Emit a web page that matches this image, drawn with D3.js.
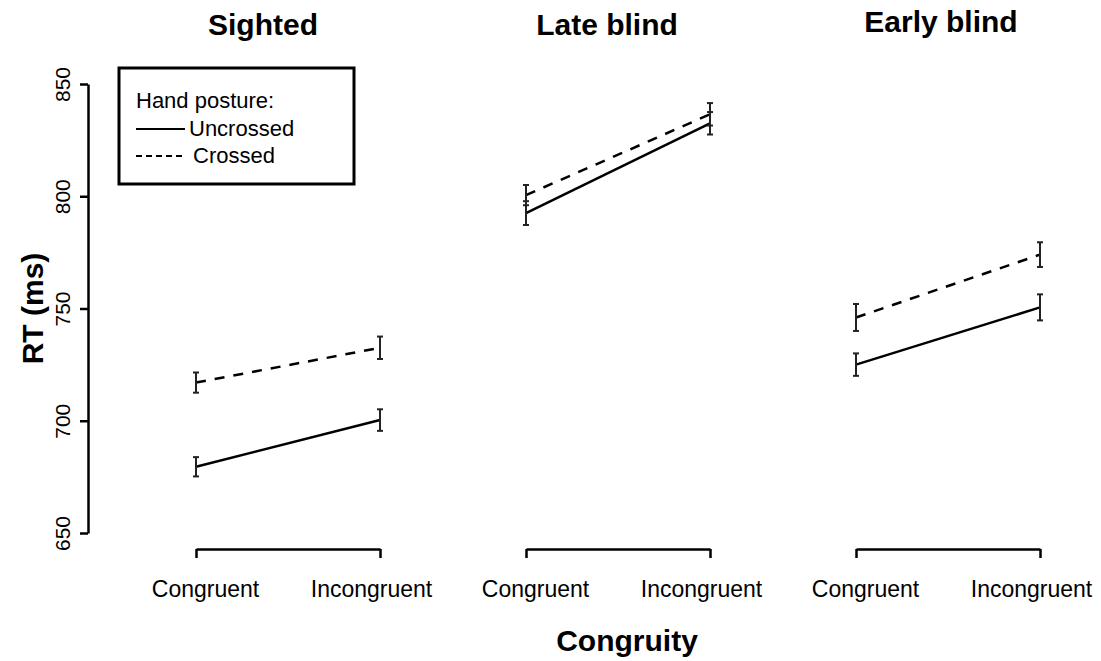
<!DOCTYPE html>
<html>
<head>
<meta charset="utf-8">
<script src="https://cdn.jsdelivr.net/npm/d3@7"></script>
<style>
  body { margin: 0; background: #fff; }
  svg { display: block; font-family: "Liberation Sans", Arial, Helvetica, sans-serif; }
</style>
</head>
<body>
<div id="chart"></div>
<script>
// ---------- Data ----------
const groups = ["Sighted", "Late blind", "Early blind"];
const conditions = ["Congruent", "Incongruent"];
const uncrossedMean = [[679.5, 700.3], [792.5, 832.5], [725, 750.5]];
const uncrossedErr  = [[4.3, 4.8], [5.3, 5], [5, 5.8]];
const crossedMean   = [[717, 732.5], [800.5, 836.5], [746, 774]];
const crossedErr    = [[4.5, 5], [4.5, 5], [6, 5.5]];
const yTicks = [650, 700, 750, 800, 850];

// ---------- Layout ----------
const width = 1101, height = 661;
const titleDx = [-25, -11, -7];
const titleY  = [35, 35, 32];

const svg = d3.select("#chart").append("svg")
  .attr("width", width)
  .attr("height", height);

svg.append("rect").attr("width", width).attr("height", height).attr("fill", "#fff");

// ---------- Scales ----------
const y = d3.scaleLinear().domain([650, 850]).range([533, 84]);
const xPanel = d3.scalePoint().domain(groups).range([196, 856]);
const xCond = d3.scalePoint().domain(conditions).range([0, 184]);

// ---------- Y axis ----------
const yAxis = svg.append("g")
  .attr("transform", "translate(88,0)")
  .call(d3.axisLeft(y).tickValues(yTicks).tickSize(8).tickSizeOuter(0).tickPadding(0));
yAxis.select(".domain").attr("stroke", "#000").attr("stroke-width", 2.5);
yAxis.selectAll(".tick line").attr("stroke", "#000").attr("stroke-width", 2.5);
yAxis.selectAll(".tick text")
  .attr("x", null).attr("dy", null)
  .attr("transform", "translate(-18,0) rotate(-90)")
  .attr("text-anchor", "middle")
  .attr("font-size", 21)
  .attr("fill", "#000");

svg.append("text")
  .attr("transform", `translate(43,${(y(650) + y(850)) / 2}) rotate(-90)`)
  .attr("text-anchor", "middle")
  .attr("font-size", 30)
  .attr("font-weight", "bold")
  .text("RT (ms)");

// ---------- Panels ----------
const series = [
  { mean: uncrossedMean, err: uncrossedErr, dash: null },
  { mean: crossedMean, err: crossedErr, dash: "10,9" }
];

groups.forEach((grp, gi) => {
  const g = svg.append("g").attr("transform", `translate(${xPanel(grp)},0)`);

  g.append("text")
    .attr("x", 92 + titleDx[gi])
    .attr("y", titleY[gi])
    .attr("text-anchor", "middle")
    .attr("font-size", 30)
    .attr("font-weight", "bold")
    .text(grp);

  // bottom bracket axis
  const xAxis = g.append("g")
    .attr("transform", "translate(0,549)")
    .call(d3.axisBottom(xCond).tickSize(9).tickSizeOuter(0).tickPadding(0));
  xAxis.select(".domain").attr("stroke", "#000").attr("stroke-width", 2.5);
  xAxis.selectAll(".tick line").attr("stroke", "#000").attr("stroke-width", 2.5);
  xAxis.selectAll(".tick text")
    .attr("dy", null)
    .attr("y", 48)
    .attr("dx", (d, i) => i === 0 ? 9 : -9)
    .attr("font-size", 23)
    .attr("fill", "#000");

  series.forEach(s => {
    const pts = conditions.map((c, ci) => ({ c, m: s.mean[gi][ci], e: s.err[gi][ci] }));

    g.append("path")
      .datum(pts)
      .attr("fill", "none")
      .attr("stroke", "#000")
      .attr("stroke-width", 2.5)
      .attr("stroke-dasharray", s.dash)
      .attr("d", d3.line().x(d => xCond(d.c)).y(d => y(d.m)));

    const eb = g.append("g").selectAll("g").data(pts).join("g")
      .attr("stroke", "#222").attr("stroke-width", 2);
    eb.append("line")
      .attr("x1", d => xCond(d.c)).attr("x2", d => xCond(d.c))
      .attr("y1", d => y(d.m - d.e)).attr("y2", d => y(d.m + d.e));
    eb.append("line")
      .attr("x1", d => xCond(d.c) - 3).attr("x2", d => xCond(d.c) + 3)
      .attr("y1", d => y(d.m - d.e)).attr("y2", d => y(d.m - d.e));
    eb.append("line")
      .attr("x1", d => xCond(d.c) - 3).attr("x2", d => xCond(d.c) + 3)
      .attr("y1", d => y(d.m + d.e)).attr("y2", d => y(d.m + d.e));
  });
});

svg.append("text")
  .attr("x", 627)
  .attr("y", 651)
  .attr("text-anchor", "middle")
  .attr("font-size", 30)
  .attr("font-weight", "bold")
  .text("Congruity");

// ---------- Legend ----------
const legend = svg.append("g").attr("transform", "translate(119,68)");
legend.append("rect")
  .attr("width", 235).attr("height", 116)
  .attr("fill", "#fff").attr("stroke", "#000").attr("stroke-width", 3);
legend.append("text").attr("x", 17).attr("y", 40).attr("font-size", 22).text("Hand posture:");
legend.append("line")
  .attr("x1", 17).attr("x2", 66).attr("y1", 61).attr("y2", 61)
  .attr("stroke", "#000").attr("stroke-width", 2);
legend.append("text").attr("x", 70).attr("y", 68).attr("font-size", 22).text("Uncrossed");
legend.append("line")
  .attr("x1", 17).attr("x2", 66).attr("y1", 88).attr("y2", 88)
  .attr("stroke", "#000").attr("stroke-width", 2).attr("stroke-dasharray", "6,4");
legend.append("text").attr("x", 74).attr("y", 95).attr("font-size", 22).text("Crossed");
</script>
</body>
</html>
